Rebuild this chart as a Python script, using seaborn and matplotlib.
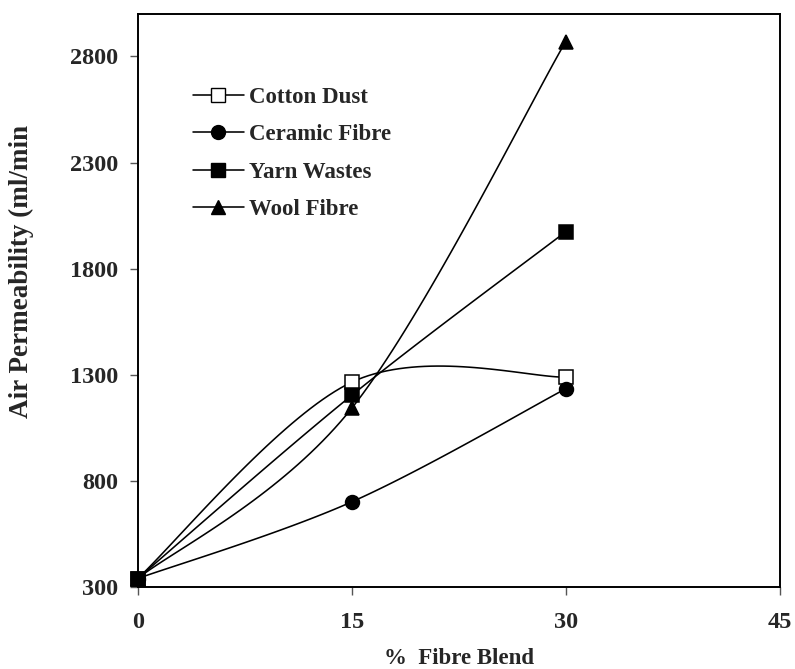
import numpy as np
import pandas as pd
import matplotlib
matplotlib.use("Agg")
import matplotlib.pyplot as plt
from matplotlib.lines import Line2D
from matplotlib import font_manager as fm
import matplotlib.patheffects as pe
import seaborn as sns

# ---- data ----
fibre_blend = [0, 15, 30]
cotton_dust = [340, 1265, 1289]
ceramic_fibre = [340, 701, 1234]
yarn_wastes = [340, 1203, 1974]
wool_fibre = [340, 1142, 2870]
series_names = ["Cotton Dust", "Ceramic Fibre", "Yarn Wastes", "Wool Fibre"]
x_ticks = [0, 15, 30, 45]
y_ticks = [300, 800, 1300, 1800, 2300, 2800]

series_values = [cotton_dust, ceramic_fibre, yarn_wastes, wool_fibre]
marker_styles = [dict(marker="s", mfc="white", ms=9.5), dict(marker="o", mfc="black", ms=10),
                 dict(marker="s", mfc="black", ms=9.5), dict(marker="^", mfc="black", ms=10.5)]


def smooth_path(xs, ys, n=40):
    """Excel-like smoothed line: cubic Bezier segments with Catmull-Rom tangents."""
    P = np.column_stack([xs, ys]).astype(float)
    out = []
    for i in range(len(P) - 1):
        p0 = P[i - 1] if i > 0 else P[i]
        p1, p2 = P[i], P[i + 1]
        p3 = P[i + 2] if i + 2 < len(P) else P[i + 1]
        c1 = p1 + (p2 - p0) / 6.0
        c2 = p2 - (p3 - p1) / 6.0
        t = np.linspace(0, 1, n)[:, None]
        seg = ((1 - t) ** 3) * p1 + 3 * ((1 - t) ** 2) * t * c1 + 3 * (1 - t) * t ** 2 * c2 + t ** 3 * p2
        out.append(seg if i == 0 else seg[1:])
    return np.vstack(out)


sns.set_theme(style="white")

# find a bold Times-like font file
bold_file = None
for f in fm.fontManager.ttflist:
    if f.name == "Liberation Serif" and f.weight in (700, "bold") and f.style == "normal":
        bold_file = f.fname
        break
if bold_file is None:
    import glob
    cands = glob.glob("/usr/share/fonts/**/LiberationSerif-Bold.ttf", recursive=True)
    if cands:
        bold_file = cands[0]

if bold_file is not None:
    fm.fontManager.addfont(bold_file)
    FP = lambda size: fm.FontProperties(fname=bold_file, size=size)
    EFFECTS = []
else:
    FP = lambda size: fm.FontProperties(family="Liberation Serif", weight="bold", size=size)
    EFFECTS = [pe.withStroke(linewidth=0.8, foreground="black")]

plt.rcParams["font.family"] = ["Liberation Serif", "DejaVu Serif"]

W, H = 795, 669
fig = plt.figure(figsize=(W / 100, H / 100), dpi=100)
ax = fig.add_axes([137.7 / W, 1 - 587 / H, (779.7 - 137.7) / W, (587 - 14) / H])

for name, vals in zip(series_names, series_values):
    path = smooth_path(fibre_blend, vals)
    df = pd.DataFrame({"x": path[:, 0], "y": path[:, 1]})
    sns.lineplot(data=df, x="x", y="y", sort=False, estimator=None, color="black",
                 linewidth=1.15, ax=ax, zorder=2)

for name, vals, ms in zip(series_names, series_values, marker_styles):
    ax.plot(fibre_blend, vals, linestyle="none", marker=ms["marker"], markersize=ms["ms"],
            markerfacecolor=ms["mfc"], markeredgecolor="black", markeredgewidth=1.1,
            zorder=3, clip_on=False)

ax.set_xlim(0, 45)
ax.set_ylim(300, 3000)
ax.set_xticks(x_ticks)
ax.set_yticks(y_ticks)
ax.tick_params(axis="both", which="major", direction="out", length=6, width=1,
               color="#555555", bottom=True, left=True)
ax.tick_params(axis="x", pad=12)
ax.tick_params(axis="y", pad=8)
for lab in ax.get_xticklabels() + ax.get_yticklabels():
    lab.set_fontproperties(FP(17.5))
    lab.set_path_effects(EFFECTS)

for sp in ax.spines.values():
    sp.set_visible(True)
    sp.set_color("black")
    sp.set_linewidth(1.4)

ax.set_xlabel("")
ax.set_ylabel("")
fig.text(459 / W, 1 - 658 / H, "%  Fibre Blend", fontproperties=FP(16.5),
         ha="center", va="center", path_effects=EFFECTS)
fig.text(21 / W, 1 - 271 / H, "Air Permeability (ml/min", fontproperties=FP(19.5),
         ha="center", va="center", rotation=90, path_effects=EFFECTS)

handles = [Line2D([0], [0], color="black", linewidth=1.15, marker=ms["marker"], markersize=ms["ms"],
                  markerfacecolor=ms["mfc"], markeredgecolor="black") for ms in marker_styles]
leg = ax.legend(handles, series_names, loc="upper left", bbox_to_anchor=(0.072, 0.888),
                frameon=False, prop=FP(16.5), handlelength=2.2, handletextpad=0.25,
                labelspacing=0.7, borderaxespad=0)
for t in leg.get_texts():
    t.set_path_effects(EFFECTS)

fig.savefig("out.png", dpi=100, facecolor="white")
